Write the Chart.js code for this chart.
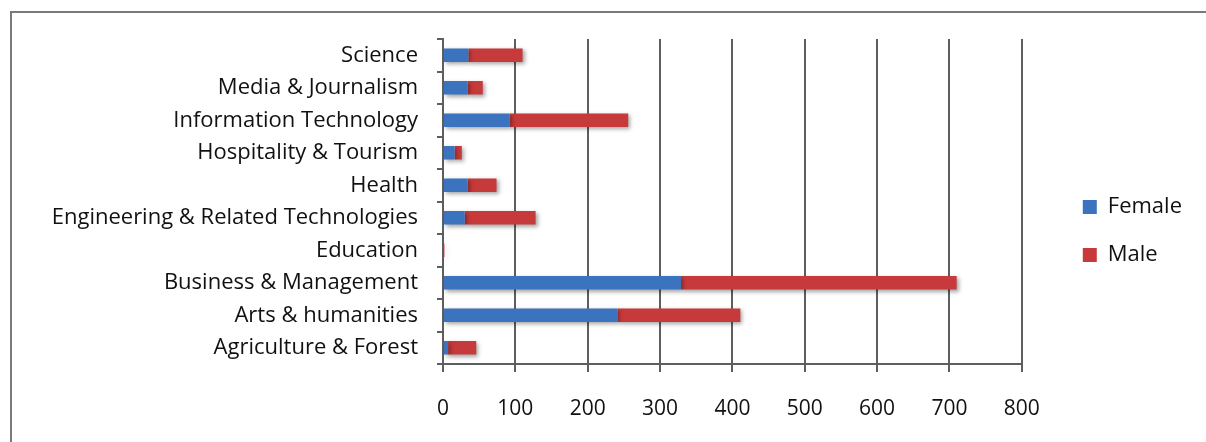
<!DOCTYPE html>
<html>
<head>
<meta charset="utf-8">
<script src="https://cdn.jsdelivr.net/npm/chart.js@4/dist/chart.umd.min.js"></script>
<style>
  html, body { margin: 0; padding: 0; background: #fff; }
  #wrap { position: relative; width: 1206px; height: 442px; overflow: hidden; }
  #frame { position: absolute; left: 10px; top: 11px; width: 1300px; height: 500px;
           border: 2px solid #7a7a7a; box-sizing: border-box; }
  #c { position: absolute; left: 0; top: 0; }
</style>
</head>
<body>
<div id="wrap">
  <div id="frame"></div>
  <canvas id="c" width="1206" height="442"></canvas>
</div>
<script>
// Fields of study, listed top to bottom
const categories = [
  'Science',
  'Media & Journalism',
  'Information Technology',
  'Hospitality & Tourism',
  'Health',
  'Engineering & Related Technologies',
  'Education',
  'Business & Management',
  'Arts & humanities',
  'Agriculture & Forest'
];
const femaleCounts = [35, 34, 92, 16, 34, 30, 0, 329, 241, 7];
const maleCounts   = [75, 21, 164, 10, 40, 98, 2, 381, 170, 39];
const xTicks = [0, 100, 200, 300, 400, 500, 600, 700, 800];

const FONT = '"Open Sans", "Noto Sans", sans-serif';
const AXIS_GREY = '#5e5e5e';
const TEXT = '#111111';

// soft drop shadow under the bars
const barShadow = {
  id: 'barShadow',
  beforeDatasetsDraw(chart) {
    const ctx = chart.ctx;
    ctx.save();
    ctx.shadowColor = 'rgba(0,0,0,0.35)';
    ctx.shadowBlur = 4;
    ctx.shadowOffsetX = 2;
    ctx.shadowOffsetY = 2;
  },
  afterDatasetsDraw(chart) {
    chart.ctx.restore();
  }
};

new Chart(document.getElementById('c'), {
  type: 'bar',
  data: {
    labels: categories,
    datasets: [
      { label: 'Female', data: femaleCounts, backgroundColor: '#3b73bf', borderWidth: 0 },
      { label: 'Male', data: maleCounts, backgroundColor: '#c73a3b', borderWidth: 0 }
    ]
  },
  options: {
    indexAxis: 'y',
    responsive: false,
    animation: false,
    events: [],
    layout: { padding: { top: 39, bottom: 19, left: 0, right: 14 } },
    datasets: { bar: { categoryPercentage: 1.0, barPercentage: 0.42 } },
    scales: {
      x: {
        stacked: true,
        min: 0,
        max: 800,
        afterBuildTicks(axis) { axis.ticks = xTicks.map(v => ({ value: v })); },
        afterFit(axis) { axis.height = 59; },
        border: { display: true, color: AXIS_GREY, width: 2 },
        grid: { color: AXIS_GREY, lineWidth: 2, drawTicks: true, tickLength: 8, tickColor: AXIS_GREY },
        ticks: { color: TEXT, font: { family: FONT, size: 21 }, padding: 24, maxRotation: 0 }
      },
      y: {
        stacked: true,
        afterFit(axis) { axis.width = 443; },
        border: { display: true, color: AXIS_GREY, width: 2 },
        grid: { drawOnChartArea: false, drawTicks: true, tickLength: 6, tickColor: AXIS_GREY, lineWidth: 2, offset: true },
        ticks: { color: TEXT, font: { family: FONT, size: 22 }, padding: 19, autoSkip: false }
      },
      // empty gap between the plot and the legend
      spacer: {
        type: 'linear',
        axis: 'y',
        position: 'right',
        afterFit(axis) { axis.width = 35; },
        border: { display: false },
        grid: { display: false },
        ticks: { display: false }
      }
    },
    plugins: {
      legend: {
        position: 'right',
        align: 'center',
        labels: {
          boxWidth: 14,
          boxHeight: 14,
          padding: 26,
          color: TEXT,
          font: { family: FONT, size: 22 }
        }
      },
      tooltip: { enabled: false }
    }
  },
  plugins: [barShadow]
});
</script>
</body>
</html>
